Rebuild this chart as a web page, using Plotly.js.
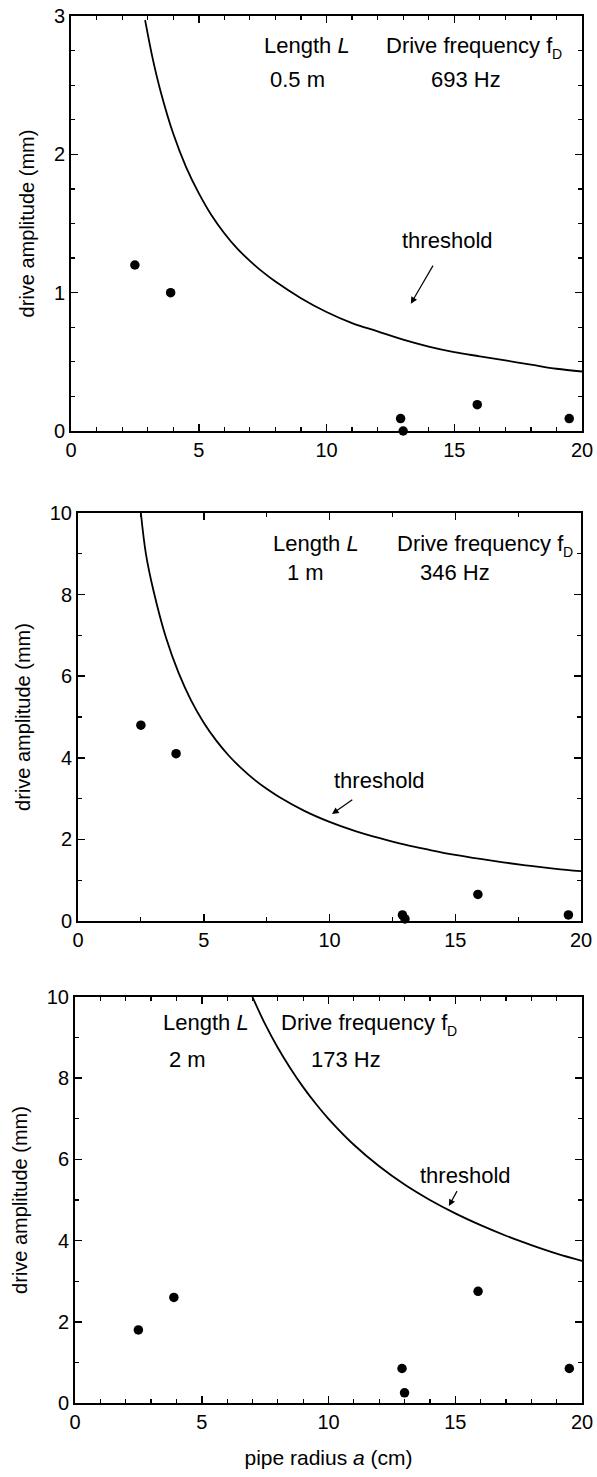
<!DOCTYPE html>
<html>
<head>
<meta charset="utf-8">
<script src="https://cdn.plot.ly/plotly-3.0.1.min.js"></script>
<style>html,body{margin:0;padding:0;background:#fff;}#chart{width:597px;height:1477px;}</style>
</head>
<body>
<div id="chart"></div>
<script>
// ---- data ----
// measured points: pipe radius a (cm) and drive amplitude (mm)
const radius = [2.5, 3.9, 12.9, 13.0, 15.9, 19.5];
const ampL05 = [1.2, 1.0, 0.09, 0.0, 0.19, 0.09];
const ampL1  = [4.8, 4.1, 0.15, 0.05, 0.65, 0.15];
const ampL2  = [1.8, 2.6, 0.85, 0.25, 2.75, 0.85];

// threshold curves
const thrX1 = [2.9, 3.2, 3.5, 4, 4.5, 5, 5.5, 6, 6.5, 7, 7.5, 8, 9, 10, 11, 12, 13, 14, 15, 16, 17, 18, 19, 20];
const thrY1 = [2.97, 2.69, 2.46, 2.15, 1.91, 1.72, 1.56, 1.43, 1.32, 1.23, 1.15, 1.08, 0.96, 0.86, 0.78, 0.72, 0.66, 0.61, 0.57, 0.54, 0.51, 0.48, 0.45, 0.43];
const thrX2 = [2.5, 2.7, 3, 3.5, 4, 4.5, 5, 5.5, 6, 6.5, 7, 7.5, 8, 9, 10, 11, 12, 13, 14, 15, 16, 17, 18, 19, 20];
const thrY2 = [10, 9.0, 8.1, 6.94, 6.08, 5.4, 4.86, 4.42, 4.05, 3.74, 3.47, 3.24, 3.04, 2.7, 2.43, 2.21, 2.03, 1.87, 1.74, 1.62, 1.52, 1.43, 1.35, 1.28, 1.22];
const thrX3 = [7.0, 7.5, 8, 8.5, 9, 9.5, 10, 11, 12, 13, 14, 15, 16, 17, 18, 19, 20];
const thrY3 = [10, 9.33, 8.75, 8.24, 7.78, 7.37, 7.0, 6.36, 5.83, 5.38, 5.0, 4.67, 4.38, 4.12, 3.89, 3.68, 3.5];

const lengthLabels = ['0.5 m', '1 m', '2 m'];
const freqLabels = ['693 Hz', '346 Hz', '173 Hz'];

const xTickVals = [0, 5, 10, 15, 20];
const yTicks1 = [0, 1, 2, 3];
const yTicks23 = [0, 2, 4, 6, 8, 10];

// ---- figure ----
const FONT = 'Liberation Sans, Arial, sans-serif';
const lineStyle = {color: '#000', width: 1.8, shape: 'spline', smoothing: 1};
const markerStyle = {color: '#000', size: 9.5, symbol: 'circle'};

function curve(x, y, n) {
  return {x: x, y: y, xaxis: 'x' + (n === 1 ? '' : n), yaxis: 'y' + (n === 1 ? '' : n),
          mode: 'lines', line: lineStyle, hoverinfo: 'skip', showlegend: false};
}
function pts(y, n) {
  return {x: radius, y: y, xaxis: 'x' + (n === 1 ? '' : n), yaxis: 'y' + (n === 1 ? '' : n),
          mode: 'markers', marker: markerStyle, showlegend: false, cliponaxis: false};
}

const data = [
  curve(thrX1, thrY1, 1), pts(ampL05, 1),
  curve(thrX2, thrY2, 2), pts(ampL1, 2),
  curve(thrX3, thrY3, 3), pts(ampL2, 3)
];

function xaxis(dom, anchor, minorDt, withTitle) {
  const ax = {
    domain: dom, anchor: anchor, range: [0, 20],
    tickmode: 'array', tickvals: xTickVals,
    ticks: 'inside', ticklen: 7, tickwidth: 1.5, tickcolor: '#000',
    minor: {dtick: minorDt, ticks: 'inside', ticklen: 4, tickwidth: 1.2, tickcolor: '#000', showgrid: false},
    showline: true, linecolor: '#000', linewidth: 2, mirror: 'allticks',
    showgrid: false, zeroline: false,
    tickfont: {family: FONT, size: 20, color: '#000'}
  };
  if (withTitle) {
    ax.title = {text: 'pipe radius <i>a</i> (cm)', font: {family: FONT, size: 21, color: '#000'}, standoff: 18};
  }
  return ax;
}
function yaxis(dom, anchor, range, vals, minorDt) {
  return {
    domain: dom, anchor: anchor, range: range,
    tickmode: 'array', tickvals: vals,
    ticks: 'inside', ticklen: 7, tickwidth: 1.5, tickcolor: '#000',
    minor: {dtick: minorDt, ticks: 'inside', ticklen: 4, tickwidth: 1.2, tickcolor: '#000', showgrid: false},
    showline: true, linecolor: '#000', linewidth: 2, mirror: 'allticks',
    showgrid: false, zeroline: false,
    tickfont: {family: FONT, size: 20, color: '#000'},
    title: {text: 'drive amplitude (mm)', font: {family: FONT, size: 20, color: '#000'}, standoff: 14}
  };
}

const W = 597, H = 1477;
const px = v => v / W;
const py = v => 1 - v / H;

const annFont = {family: FONT, size: 22, color: '#000'};
const subFont = {family: FONT, size: 14, color: '#000'};
function txt(text, x, y, n) {
  const s = n === 1 ? '' : n;
  return {text: text, x: x, y: y, xref: 'x' + s, yref: 'y' + s, showarrow: false, font: annFont, xanchor: 'center', yanchor: 'middle'};
}
// "Drive frequency f" with a subscript D placed right after it
function freqTitle(xRight, y, n) {
  const s = n === 1 ? '' : n;
  return [
    {text: 'Drive frequency f', x: xRight, y: y, xref: 'x' + s, yref: 'y' + s, showarrow: false, font: annFont, xanchor: 'right', yanchor: 'middle'},
    {text: 'D', x: xRight, y: y, xref: 'x' + s, yref: 'y' + s, showarrow: false, font: subFont, xanchor: 'left', yanchor: 'middle', xshift: -5, yshift: -9}
  ];
}
// label with an arrow: text centred at (tx, ty), arrow head at (hx, hy)
function labelArrow(text, hx, hy, tx, ty, n, pad) {
  const s = n === 1 ? '' : n;
  return {text: text, x: hx, y: hy, ax: tx, ay: ty, xref: 'x' + s, yref: 'y' + s, axref: 'x' + s, ayref: 'y' + s,
          font: annFont, borderpad: pad, borderwidth: 0,
          showarrow: true, arrowhead: 2, arrowsize: 1.1, arrowwidth: 1.2, arrowcolor: '#000'};
}

const annotations = [
  txt('Length <i>L</i>', 9.25, 2.79, 1), txt(lengthLabels[0], 8.85, 2.54, 1),
  ...freqTitle(18.95, 2.79, 1), txt(freqLabels[0], 15.45, 2.54, 1),
  labelArrow('threshold', 13.3, 0.92, 14.75, 1.38, 1, 13),

  txt('Length <i>L</i>', 9.45, 9.26, 2), txt(lengthLabels[1], 9.05, 8.53, 2),
  ...freqTitle(19.4, 9.26, 2), txt(freqLabels[1], 15.0, 8.53, 2),
  labelArrow('threshold', 10.1, 2.62, 12.0, 3.45, 2, 7),

  txt('Length <i>L</i>', 5.17, 9.38, 3), txt(lengthLabels[2], 4.42, 8.45, 3),
  ...freqTitle(14.8, 9.38, 3), txt(freqLabels[2], 10.69, 8.45, 3),
  labelArrow('threshold', 14.75, 4.85, 15.4, 5.6, 3, 3)
];

const layout = {
  width: W, height: H,
  margin: {l: 0, r: 0, t: 0, b: 0},
  paper_bgcolor: '#fff', plot_bgcolor: '#fff',
  font: {family: FONT, color: '#000'},
  showlegend: false,
  xaxis:  xaxis([px(71), px(582)], 'y', 1, false),
  yaxis:  yaxis([py(431), py(16)], 'x', [0, 3], yTicks1, 0.25),
  xaxis2: xaxis([px(78), px(581)], 'y2', 2.5, false),
  yaxis2: yaxis([py(921), py(513)], 'x2', [0, 10], yTicks23, 1),
  xaxis3: xaxis([px(75), px(582)], 'y3', 1, true),
  yaxis3: yaxis([py(1403), py(997)], 'x3', [0, 10], yTicks23, 1),
  annotations: annotations
};

Plotly.newPlot('chart', data, layout, {staticPlot: true, displayModeBar: false});
</script>
</body>
</html>
